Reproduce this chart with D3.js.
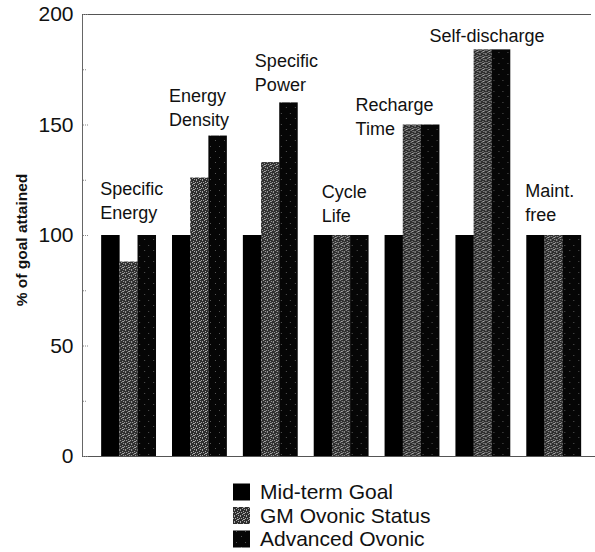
<!DOCTYPE html>
<html><head><meta charset="utf-8">
<script src="https://cdn.jsdelivr.net/npm/d3@7"></script>
<style>body{margin:0;background:#fff}svg{display:block}text{font-family:"Liberation Sans",Arial,sans-serif;fill:#111}</style>
</head><body>
<script>
const categories = ["Specific Energy","Energy Density","Specific Power","Cycle Life","Recharge Time","Self-discharge","Maint. free"];
const labelLines = [["Specific","Energy"],["Energy","Density"],["Specific","Power"],["Cycle","Life"],["Recharge","Time"],["Self-discharge"],["Maint.","free"]];
const seriesNames = ["Mid-term Goal","GM Ovonic Status","Advanced Ovonic"];
const midTerm = [100,100,100,100,100,100,100];
const gmStatus = [88,126,133,100,150,184,100];
const advanced = [100,145,160,100,150,184,100];
const yTicks = [0,50,100,150,200];
const yMinor = [25,75,125,175];

// label layout (offsets from group start and from top of tallest bar)
const labelDx = [-1,-3,12,8,-29,-26,-1];
const labelDy = [-16,-10,-11,-13,10,-7,-14];

const W=595,H=552;
const svg=d3.select("body").append("svg").attr("width",W).attr("height",H);
const defs=svg.append("defs");
const pat=defs.append("pattern").attr("id","speck").attr("patternUnits","userSpaceOnUse").attr("width",6).attr("height",6);
pat.append("rect").attr("width",6).attr("height",6).attr("fill","#2e2e2e");
[[0,0],[3,1],[1,2],[5,2],[2,4],[4,3],[0,5],[4,5],[3,3]].forEach(p=>pat.append("rect").attr("x",p[0]).attr("y",p[1]).attr("width",1).attr("height",1).attr("fill","#a8a8a8"));
const pat2=defs.append("pattern").attr("id","speck2").attr("patternUnits","userSpaceOnUse").attr("width",9).attr("height",11);
pat2.append("rect").attr("width",9).attr("height",11).attr("fill","#060606");
[[2,3],[7,8]].forEach(p=>pat2.append("rect").attr("x",p[0]).attr("y",p[1]).attr("width",1).attr("height",1).attr("fill","#555"));

const x0=d3.scaleBand().domain(categories).range([93,589]).paddingInner(0.23).paddingOuter(0.115);
const x1=d3.scaleBand().domain(seriesNames).range([0,x0.bandwidth()]);
const y=d3.scaleLinear().domain([0,200]).range([456,14]);
const fills=["#000","url(#speck)","url(#speck2)"];
const series=[midTerm,gmStatus,advanced];

// frame
svg.append("line").attr("x1",82.5).attr("x2",82.5).attr("y1",y(200)).attr("y2",y(0)+0.5).attr("stroke","#666");
svg.append("line").attr("x1",82).attr("x2",591).attr("y1",y(200)+0.5).attr("y2",y(200)+0.5).attr("stroke","#555");
svg.append("line").attr("x1",82).attr("x2",595).attr("y1",y(0)+0.5).attr("y2",y(0)+0.5).attr("stroke","#555");

// axis
const ax=svg.append("g").attr("transform","translate(82.5,0)").call(d3.axisLeft(y).tickValues(yTicks).tickSize(0).tickPadding(9));
ax.select(".domain").remove();
ax.selectAll("text").style("font-size","21px").attr("fill","#111").attr("font-family","Liberation Sans, Arial, sans-serif");
svg.append("g").selectAll("line").data(yTicks.concat(yMinor)).join("line")
  .attr("x1",83).attr("x2",d=>yTicks.includes(d)?89:86).attr("y1",d=>y(d)+0.5).attr("y2",d=>y(d)+0.5).attr("stroke","#888").attr("stroke-dasharray","1,1");

svg.append("text").attr("transform","translate(22,240) rotate(-90)").attr("text-anchor","middle").attr("dy","0.35em")
  .style("font-size","15.5px").style("font-weight","bold").text("% of goal attained");

// bars
categories.forEach((c,i)=>{
  const g=svg.append("g").attr("transform",`translate(${x0(c)},0)`);
  g.selectAll("rect").data(series.map((s,k)=>({k,v:s[i]}))).join("rect")
    .attr("x",d=>x1(seriesNames[d.k])).attr("width",x1.bandwidth()+0.3)
    .attr("y",d=>y(d.v)).attr("height",d=>y(0)-y(d.v)).attr("fill",d=>fills[d.k]);
  const top=y(Math.max(midTerm[i],gmStatus[i],advanced[i]));
  const lines=labelLines[i];
  const t=svg.append("text").style("font-size","18px");
  lines.forEach((ln,j)=>{
    t.append("tspan").attr("x",x0(c)+labelDx[i]).attr("y",top+labelDy[i]-(lines.length-1-j)*24).text(ln);
  });
});

// legend
const lg=svg.append("g");
seriesNames.forEach((n,k)=>{
  const cy=492+k*23.5;
  lg.append("rect").attr("x",233).attr("y",cy-8.5).attr("width",17).attr("height",17).attr("fill",fills[k]);
  lg.append("text").attr("x",260).attr("y",cy).attr("dy","0.35em").style("font-size","21px").text(n);
});
</script>
</body></html>
